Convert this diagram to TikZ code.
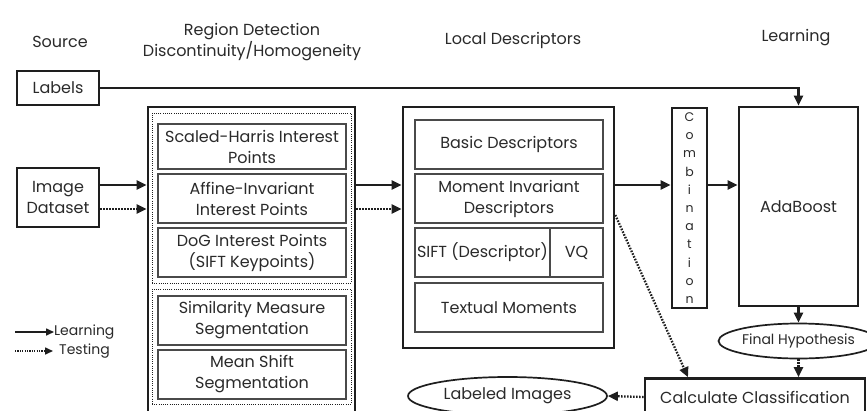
\documentclass[tikz,border=0pt]{standalone}
\usepackage{fontspec}
\setmainfont{Poppins}
\usetikzlibrary{arrows.meta,shapes.geometric}
\definecolor{txt}{HTML}{2A2A2A}
\definecolor{edge}{HTML}{1E1E1E}
\definecolor{thin}{HTML}{4A4A4A}

\begin{document}
\begin{tikzpicture}[x=1pt,y=-1pt,
  every node/.style={inner sep=0pt, text=txt, font=\fontsize{16}{20}\selectfont},
  two/.style={align=center, font=\fontsize{16}{21}\selectfont},
  thickbox/.style={draw=edge, line width=2.6pt, rectangle, align=center},
  thinbox/.style={draw=thin, line width=1.2pt, rectangle, align=center},
  dotbox/.style={draw=edge, line width=0.9pt, dash pattern=on 0.9pt off 1.3pt, rectangle},
  oval/.style={draw=edge, ellipse, line width=1.7pt},
  arr/.style={draw=edge, line width=2.3pt, -{Triangle[length=10pt,width=9pt]}},
  darr/.style={arr, dash pattern=on 1.6pt off 1.4pt},
  legarr/.style={draw=edge, line width=1.6pt, -{Triangle[length=8pt,width=7pt]}},
  legdarr/.style={legarr, dash pattern=on 1.2pt off 1.2pt},
  legtext/.style={anchor=west, font=\fontsize{14}{16}\selectfont},
]
\useasboundingbox (0,0) rectangle (867,410);
\fill[white] (0,0) rectangle (867,410);
\clip (0,0) rectangle (867,410);

% column headings
\node (hSource) at (60,42) {Source};
\node[two] (hRegion) at (252,42.5) {Region Detection\\Discontinuity/Homogeneity};
\node (hLocal) at (513,40) {Local Descriptors};
\node (hLearn) at (796,38) {Learning};

% sources
\node[thickbox, minimum width=82pt, minimum height=34pt] (labels) at (58,88) {Labels};
\node[thickbox, two, minimum width=82pt, minimum height=59pt] (dataset) at (58,197.5) {Image\\Dataset};

% region detection
\node[thickbox, minimum width=207pt, minimum height=340pt] (region) at (251.5,277) {};
\node[dotbox, minimum width=199pt, minimum height=170pt] (grpA) at (251.5,198) {};
\node[dotbox, minimum width=199pt, minimum height=115pt] (grpB) at (251.5,346.5) {};
\begin{scope}[every node/.append style={thinbox, two, minimum width=188pt}]
\node[minimum height=45pt] (harris) at (252,146.5) {Scaled-Harris Interest\\Points};
\node[minimum height=49pt] (affine) at (252,198.5) {Affine-Invariant\\Interest Points};
\node[minimum height=49pt] (dog) at (252,252.5) {DoG Interest Points\\(SIFT Keypoints)};
\node[minimum height=49pt] (simil) at (252,320.5) {Similarity Measure\\Segmentation};
\node[minimum height=49pt] (mshift) at (252,374.5) {Mean Shift\\Segmentation};
\end{scope}

% local descriptors
\node[thickbox, minimum width=211pt, minimum height=241pt] (local) at (508.5,227.5) {};
\begin{scope}[every node/.append style={thinbox, two, minimum height=49pt}]
\node[minimum width=188pt] (basic) at (509,144.5) {Basic Descriptors};
\node[minimum width=188pt] (moment) at (509,198.5) {Moment Invariant\\Descriptors};
\node[minimum width=135pt] (sift) at (482.5,252.5) {SIFT (Descriptor)};
\node[minimum width=53pt] (vq) at (576.5,252.5) {VQ};
\node[minimum width=188pt] (textual) at (509,307.5) {Textual Moments};
\end{scope}

% combination and learning
\node[thickbox, minimum width=35pt, minimum height=200pt, font=\fontsize{12.5}{18.2}\selectfont] (comb) at (689.5,208) {C\\o\\m\\b\\i\\n\\a\\t\\i\\o\\n};
\node[thickbox, minimum width=119pt, minimum height=199pt] (ada) at (798.5,206.5) {AdaBoost};
\node[oval, minimum width=160pt, minimum height=35pt, font=\fontsize{14}{16}\selectfont] (final) at (798.5,341) {Final Hypothesis};
\node[thickbox, minimum width=220pt, minimum height=37pt] (calc) at (755,397) {Calculate Classification};
\node[oval, minimum width=199pt, minimum height=38pt] (labeled) at (507.5,396) {Labeled Images};

% legend
\node[legtext] (legL) at (54,332) {Learning};
\node[legtext] (legT) at (59,351) {Testing};
\coordinate (legA) at (15,332);
\coordinate (legB) at (15,351);
\draw[legarr] (legA) -- (legL.west);
\draw[legdarr] (legB) -- ([xshift=-6pt]legT.west);

% flow rows
\coordinate (ySolid) at (0,185);
\coordinate (yDot) at (0,209);
\coordinate (yDiag) at (0,215);

% connectors
\draw[arr] (labels.east) -| (ada.north);
\draw[arr] (dataset.east |- ySolid) -- (region.west |- ySolid);
\draw[darr] (dataset.east |- yDot) -- (region.west |- yDot);
\draw[arr] (region.east |- ySolid) -- (local.west |- ySolid);
\draw[darr] (region.east |- yDot) -- (local.west |- yDot);
\draw[arr] (local.east |- ySolid) -- (comb.west |- ySolid);
\draw[arr] (comb.east |- ySolid) -- (ada.west |- ySolid);
\draw[arr] (ada.south) -- (final.north);
\draw[darr] (final.south) -- (final.south |- calc.north);
\draw[darr] (local.east |- yDiag) -- ([xshift=-67pt]calc.north);
\draw[darr] (calc.west) -- (labeled.east);
\end{tikzpicture}
\end{document}
